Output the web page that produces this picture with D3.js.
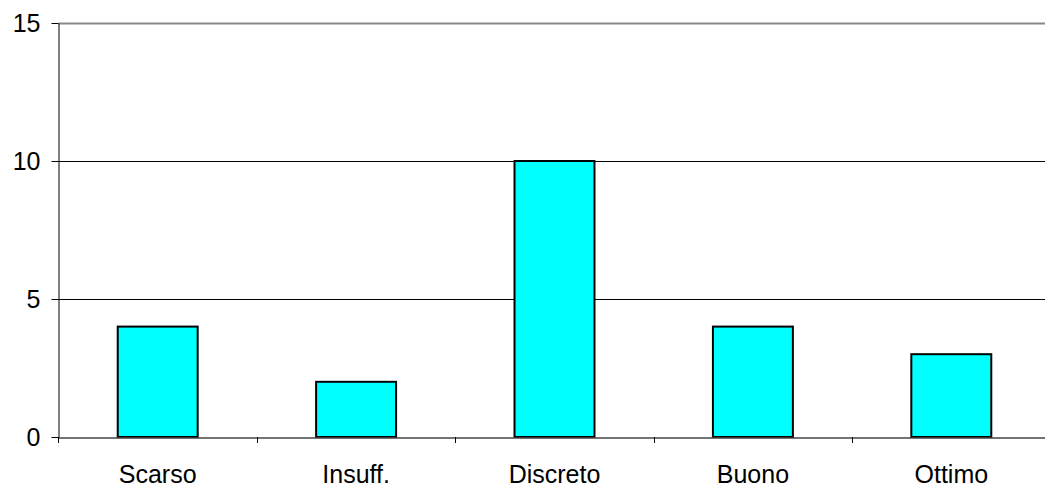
<!DOCTYPE html>
<html><head><meta charset="utf-8">
<script src="https://cdn.jsdelivr.net/npm/d3@7"></script>
<style>body{margin:0;background:#fff;}svg{display:block;font-family:"Liberation Sans",Arial,sans-serif;}</style>
</head><body>
<svg id="c" width="1045" height="489"></svg>
<script>
const categories = ["Scarso", "Insuff.", "Discreto", "Buono", "Ottimo"];
const values = [4, 2, 10, 4, 3];
const yTicks = [0, 5, 10, 15];

const svg = d3.select("#c");
const m = {l: 58.5, r: 1050.5, t: 23, b: 437};
const x = d3.scaleBand().domain(categories).range([m.l, m.r]).paddingInner(0).paddingOuter(0);
const y = d3.scaleLinear().domain([0, 15]).range([m.b, m.t]);

// gridlines
svg.append("g").selectAll("line").data(yTicks.filter(d => d > 0)).join("line")
  .attr("x1", m.l).attr("x2", m.r)
  .attr("y1", d => Math.round(y(d)) + 0.5).attr("y2", d => Math.round(y(d)) + 0.5)
  .attr("stroke", d => d === 15 ? "#888" : "#000")
  .attr("stroke-width", d => d === 15 ? 2 : 1);

// bars
const bw = x.bandwidth() * 0.403;
svg.append("g").selectAll("rect").data(categories).join("rect")
  .attr("x", d => x(d) + (x.bandwidth() - bw) / 2)
  .attr("width", bw)
  .attr("y", (d, i) => y(values[i]))
  .attr("height", (d, i) => y(0) - y(values[i]))
  .attr("fill", "#00ffff").attr("stroke", "#000").attr("stroke-width", 2);

// y axis
const ya = svg.append("g").attr("transform", `translate(${m.l},0)`)
  .call(d3.axisLeft(y).tickValues(yTicks).tickSize(7).tickSizeOuter(0).tickPadding(11));
ya.select(".domain").attr("stroke", "#000");
ya.selectAll("text").attr("font-size", 25).attr("fill", "#000").attr("font-family", "Liberation Sans, Arial, sans-serif");

// x axis
const xa = svg.append("g").attr("transform", `translate(0,${m.b + 0.5})`)
  .call(d3.axisBottom(x).tickSize(0).tickSizeOuter(0).tickPadding(28));
xa.select(".domain").attr("stroke", "#444").attr("stroke-width", 1.5);
xa.selectAll("text").attr("font-size", 25).attr("fill", "#000").attr("font-family", "Liberation Sans, Arial, sans-serif");
// x ticks at band boundaries
svg.append("g").selectAll("line").data(categories.slice(1)).join("line")
  .attr("x1", d => Math.round(x(d)) + 0.5).attr("x2", d => Math.round(x(d)) + 0.5)
  .attr("y1", m.b).attr("y2", m.b + 6).attr("stroke", "#000");
svg.append("line").attr("x1", m.l).attr("x2", m.l).attr("y1", m.b).attr("y2", m.b + 6).attr("stroke", "#000");
</script>
</body></html>
